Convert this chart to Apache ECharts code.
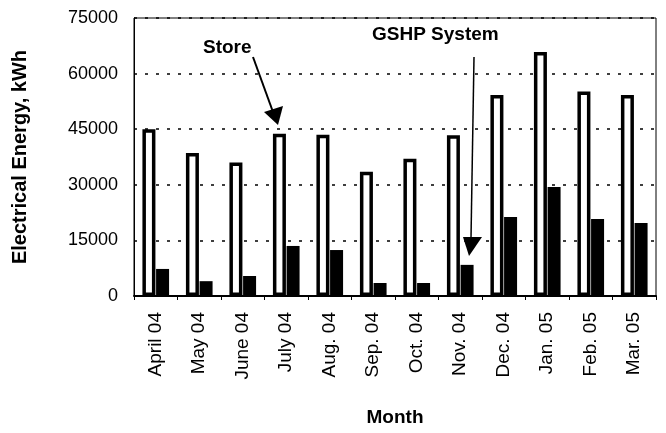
<!DOCTYPE html>
<html>
<head>
<meta charset="utf-8">
<script src="https://cdn.jsdelivr.net/npm/echarts@6/dist/echarts.min.js"></script>
<style>html,body{margin:0;padding:0;background:#fff}#c{width:666px;height:433px}</style>
</head>
<body>
<div id="c"></div>
<script>
const months = ['April 04','May 04','June 04','July 04','Aug. 04','Sep. 04','Oct. 04','Nov. 04','Dec. 04','Jan. 05','Feb. 05','Mar. 05'];
const storeValues = [45000, 38600, 36000, 43800, 43500, 33500, 37000, 43400, 54200, 65800, 55200, 54200];
const gshpValues = [7300, 4000, 5400, 13500, 12400, 3500, 3500, 8400, 21300, 29400, 20800, 19700];
const yTicks = {min: 0, max: 75000, interval: 15000};

const FONT = '"Liberation Sans", Arial, sans-serif';
const chart = echarts.init(document.getElementById('c'), null, {renderer: 'canvas'});
chart.setOption({
  animation: false,
  backgroundColor: '#fff',
  grid: {left: 134, right: 10, top: 18, bottom: 137, show: true, borderColor: '#000', borderWidth: 1},
  xAxis: {
    type: 'category',
    data: months,
    name: 'Month',
    nameLocation: 'middle',
    nameGap: 112,
    nameTextStyle: {fontFamily: FONT, fontSize: 19, fontWeight: 'bold', color: '#000'},
    axisLine: {lineStyle: {color: '#000', width: 2}},
    axisTick: {show: true, length: 4, lineStyle: {color: '#000'}},
    axisLabel: {rotate: 90, fontFamily: FONT, fontSize: 19, color: '#000', margin: 16}
  },
  yAxis: {
    type: 'value',
    min: yTicks.min, max: yTicks.max, interval: yTicks.interval,
    name: 'Electrical Energy, kWh',
    nameLocation: 'middle',
    nameGap: 104,
    nameTextStyle: {fontFamily: FONT, fontSize: 20, fontWeight: 'bold', color: '#000'},
    axisLine: {show: true, lineStyle: {color: '#000', width: 1}},
    axisTick: {show: false},
    axisLabel: {fontFamily: FONT, fontSize: 18, color: '#000', margin: 16, formatter: v => String(v)},
    splitLine: {show: true, lineStyle: {color: '#000', width: 1.5, type: [3, 8]}}
  },
  series: [
    {name: 'Store', type: 'bar', data: storeValues, barWidth: 13, barGap: '5%',
     itemStyle: {color: '#fff', borderColor: '#000', borderWidth: 3.5}},
    {name: 'GSHP System', type: 'bar', data: gshpValues, barWidth: 13,
     itemStyle: {color: '#000'}}
  ],
  graphic: [
    {type: 'text', left: 203, top: 38, style: {text: 'Store', font: 'bold 19px ' + FONT, fill: '#000'}},
    {type: 'line', shape: {x1: 253, y1: 57, x2: 273, y2: 112}, style: {stroke: '#000', lineWidth: 2}},
    {type: 'polygon', shape: {points: [[264, 112], [283, 106], [278, 125]]}, style: {fill: '#000'}},
    {type: 'text', left: 372, top: 25, style: {text: 'GSHP System', font: 'bold 19px ' + FONT, fill: '#000'}},
    {type: 'line', shape: {x1: 474, y1: 57, x2: 471, y2: 238}, style: {stroke: '#000', lineWidth: 1.5}},
    {type: 'polygon', shape: {points: [[463, 237], [482, 237], [469, 256]]}, style: {fill: '#000'}}
  ]
});
</script>
</body>
</html>
